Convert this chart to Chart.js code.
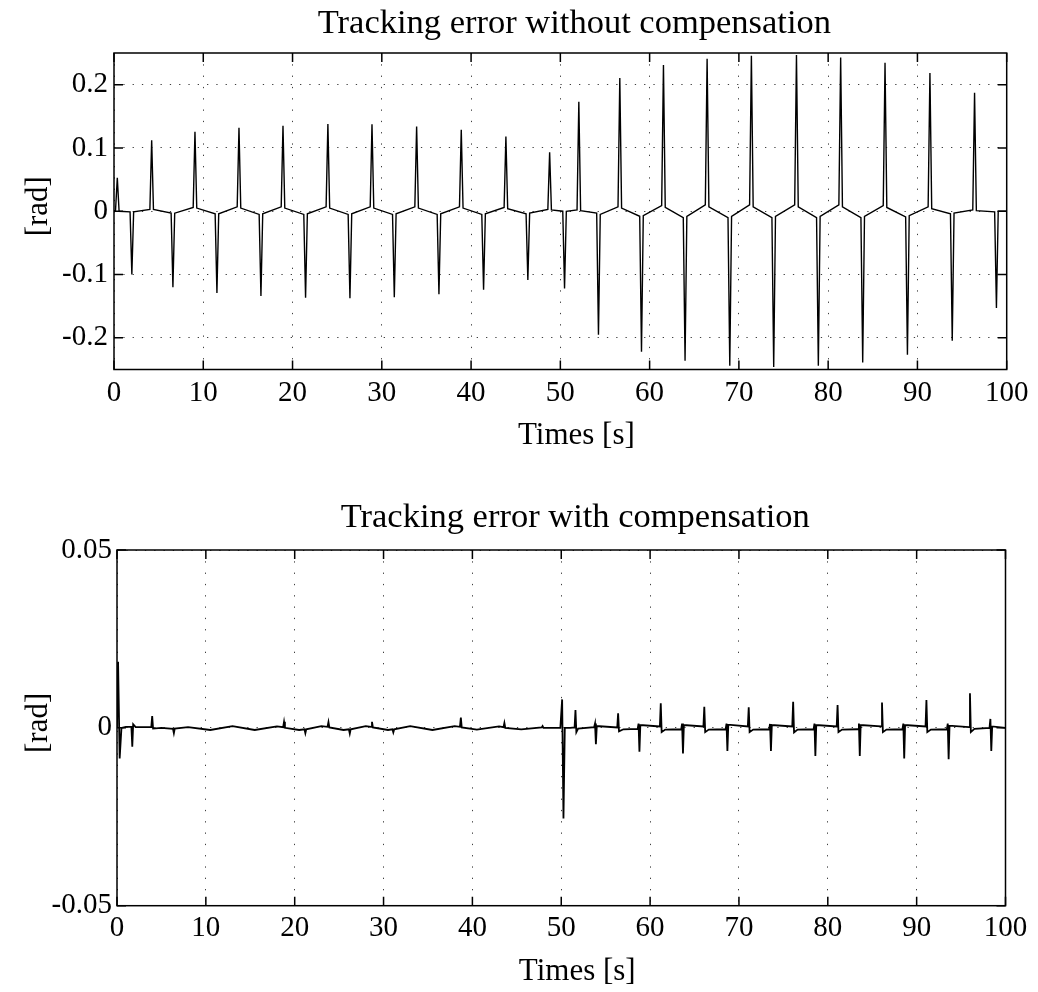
<!DOCTYPE html>
<html>
<head>
<meta charset="utf-8">
<script src="https://cdn.jsdelivr.net/npm/chart.js@4.4.1/dist/chart.umd.min.js"></script>
<style>
  html, body { margin: 0; padding: 0; background: #fff; }
  #wrap { position: relative; width: 1038px; height: 992px; }
  canvas { position: absolute; left: 0; }
  #topChart { top: 0; }
  #bottomChart { top: 480px; }
</style>
</head>
<body>
<div id="wrap">
  <canvas id="topChart" width="1038" height="480"></canvas>
  <canvas id="bottomChart" width="1038" height="512"></canvas>
</div>
<script>
// x ticks shared by both plots
const xTicks = [0, 10, 20, 30, 40, 50, 60, 70, 80, 90, 100];

// top plot: tracking error without compensation
const topYTicks = [-0.2, -0.1, 0, 0.1, 0.2];
const topYLabels = ['-0.2', '-0.1', '0', '0.1', '0.2'];
const topTime = [
  0,
  0.17, 0.37, 0.57,
  1.8, 2.0, 2.2,
  4.02, 4.22, 4.42,
  6.4, 6.6, 6.8,
  8.87, 9.07, 9.27,
  11.33, 11.53, 11.73,
  13.8, 14.0, 14.2,
  16.26, 16.46, 16.66,
  18.73, 18.93, 19.13,
  21.26, 21.46, 21.66,
  23.76, 23.96, 24.16,
  26.23, 26.43, 26.63,
  28.7, 28.9, 29.1,
  31.2, 31.4, 31.6,
  33.7, 33.9, 34.1,
  36.2, 36.4, 36.6,
  38.7, 38.9, 39.1,
  41.2, 41.4, 41.6,
  43.7, 43.9, 44.1,
  46.16, 46.36, 46.56,
  48.6, 48.8, 49.0,
  50.27, 50.47, 50.67,
  51.87, 52.07, 52.27,
  54.07, 54.27, 54.47,
  56.46, 56.66, 56.86,
  58.89, 59.09, 59.29,
  61.35, 61.55, 61.75,
  63.77, 63.97, 64.17,
  66.24, 66.44, 66.64,
  68.78, 68.98, 69.18,
  71.2, 71.4, 71.6,
  73.7, 73.9, 74.1,
  76.25, 76.45, 76.65,
  78.7, 78.9, 79.1,
  81.2, 81.4, 81.6,
  83.67, 83.87, 84.07,
  86.17, 86.37, 86.57,
  88.68, 88.88, 89.08,
  91.2, 91.4, 91.6,
  93.7, 93.9, 94.1,
  96.2, 96.4, 96.6,
  98.65, 98.85, 99.05,
  100
];
const topError = [
  0.001,
  0.001, 0.053, 0.000,
  -0.001, -0.100, -0.001,
  0.003, 0.112, 0.003,
  -0.003, -0.120, -0.003,
  0.006, 0.1255, 0.005,
  -0.004, -0.129, -0.004,
  0.007, 0.132, 0.005,
  -0.005, -0.134, -0.004,
  0.007, 0.135, 0.005,
  -0.005, -0.1365, -0.004,
  0.007, 0.138, 0.005,
  -0.005, -0.1375, -0.004,
  0.007, 0.1375, 0.005,
  -0.005, -0.136, -0.004,
  0.007, 0.134, 0.005,
  -0.005, -0.131, -0.004,
  0.007, 0.1286, 0.005,
  -0.005, -0.124, -0.004,
  0.006, 0.118, 0.004,
  -0.004, -0.1087, -0.003,
  0.003, 0.093, 0.002,
  0.000, -0.122, 0.000,
  0.002, 0.173, 0.001,
  -0.003, -0.195, -0.005,
  0.007, 0.2105, 0.005,
  -0.008, -0.222, -0.007,
  0.009, 0.231, 0.006,
  -0.010, -0.236, -0.008,
  0.010, 0.241, 0.007,
  -0.010, -0.244, -0.008,
  0.010, 0.2457, 0.007,
  -0.010, -0.246, -0.008,
  0.010, 0.2467, 0.007,
  -0.010, -0.244, -0.008,
  0.010, 0.243, 0.007,
  -0.010, -0.239, -0.008,
  0.009, 0.2346, 0.006,
  -0.009, -0.2268, -0.007,
  0.007, 0.2184, 0.004,
  -0.004, -0.2047, -0.003,
  0.002, 0.187, 0.001,
  -0.001, -0.153, 0.000,
  0.000
];

// bottom plot: tracking error with compensation
const botYTicks = [-0.05, 0, 0.05];
const botYLabels = ['-0.05', '0', '0.05'];
const botTime = [
  0, 0.12, 0.3, 0.5, 1.0,
  1.62, 1.72, 1.82, 2.1,
  3.86, 3.96, 4.06, 5.0,
  6.3, 6.4, 6.5, 8.0,
  10.5, 13.0, 15.5, 18.0,
  18.7, 18.8, 18.9, 20.5,
  21.1, 21.2, 21.3, 23.0,
  23.7, 23.8, 23.9, 25.5,
  26.1, 26.2, 26.3, 28.0,
  28.6, 28.7, 28.8, 30.5,
  31.0, 31.1, 31.2, 33.0,
  35.5, 38.0,
  38.6, 38.7, 38.8, 40.5,
  43.0, 43.5, 43.6, 43.7, 45.5,
  47.8, 47.9, 48.0, 49.9,
  50.1, 50.25, 50.4, 51.0,
  51.5, 51.6, 51.7, 51.9,
  53.7, 53.8, 53.9, 54.0,
  56.3, 56.4, 56.5, 57.0,
  58.6, 58.7, 58.8, 58.9,
  61.1, 61.2, 61.3, 61.7,
  63.5, 63.6, 63.7, 63.8,
  66.0, 66.1, 66.2, 66.6,
  68.5, 68.6, 68.7, 68.8,
  71.0, 71.1, 71.2, 71.6,
  73.4, 73.5, 73.6, 73.7,
  76.0, 76.1, 76.2, 76.6,
  78.4, 78.5, 78.6, 78.7,
  81.0, 81.1, 81.2, 81.6,
  83.4, 83.5, 83.6, 83.7,
  86.0, 86.1, 86.2, 86.6,
  88.4, 88.5, 88.6, 88.7,
  91.0, 91.1, 91.2, 91.6,
  93.4, 93.5, 93.6, 93.7,
  95.9, 96.0, 96.1, 96.5,
  98.2, 98.3, 98.4, 98.5,
  100
];
const botError = [
  0.0, 0.0186, -0.0086, 0.0, 0.0003,
  0.0003, -0.0053, 0.0010, 0.0002,
  0.0002, 0.0033, -0.0002, 0.0,
  -0.0003, -0.0015, -0.0002, 0.0002,
  -0.0006, 0.0005, -0.0006, 0.0004,
  0.0002, 0.0017, 0.0, -0.0006,
  -0.0004, -0.0015, -0.0004, 0.0005,
  0.0003, 0.0016, 0.0001, -0.0006,
  -0.0004, -0.0016, -0.0004, 0.0005,
  0.0003, 0.0017, 0.0001, -0.0006,
  -0.0004, -0.0013, -0.0004, 0.0005,
  -0.0006, 0.0005,
  0.0003, 0.0029, 0.0001, -0.0005,
  0.0004, 0.0002, 0.0014, 0.0, -0.0004,
  0.0001, 0.0005, 0.0, 0.0,
  0.0080, -0.0255, 0.0, 0.0,
  0.0001, 0.0050, -0.0012, -0.0002,
  0.0002, 0.0012, -0.0046, 0.0005,
  0.0001, 0.0041, -0.0010, -0.0004,
  -0.0003, 0.0012, -0.0067, 0.0008,
  0.0004, 0.0069, -0.0012, -0.0005,
  -0.0004, 0.0012, -0.0072, 0.0008,
  0.0004, 0.0059, -0.0012, -0.0005,
  -0.0004, 0.0012, -0.0065, 0.0009,
  0.0004, 0.0058, -0.0012, -0.0005,
  -0.0004, 0.0011, -0.0065, 0.0008,
  0.0004, 0.0073, -0.0013, -0.0005,
  -0.0004, 0.0012, -0.0079, 0.0008,
  0.0004, 0.0064, -0.0012, -0.0005,
  -0.0004, 0.0012, -0.0079, 0.0008,
  0.0004, 0.0071, -0.0012, -0.0005,
  -0.0004, 0.0012, -0.0086, 0.0008,
  0.0004, 0.0078, -0.0012, -0.0005,
  -0.0004, 0.0012, -0.0088, 0.0006,
  0.0002, 0.0097, -0.0012, -0.0003,
  0.0, 0.0025, -0.0065, 0.0004,
  0.0
];

const FONT = '"Liberation Serif", "Times New Roman", serif';

// box round the axes, inward ticks on all four sides, title and axis labels
const framePlugin = {
  id: 'frame',
  afterDraw(chart, args, opts) {
    const { ctx, chartArea: a, scales: { x, y } } = chart;
    const mid = (a.left + a.right) / 2;
    ctx.save();
    ctx.strokeStyle = '#000';
    ctx.lineWidth = 1.5;
    ctx.strokeRect(a.left, a.top, a.right - a.left, a.bottom - a.top);
    ctx.beginPath();
    x.ticks.forEach(t => {
      const p = x.getPixelForValue(t.value);
      ctx.moveTo(p, a.bottom); ctx.lineTo(p, a.bottom - 9);
      ctx.moveTo(p, a.top); ctx.lineTo(p, a.top + 9);
    });
    y.ticks.forEach(t => {
      const p = y.getPixelForValue(t.value);
      ctx.moveTo(a.left, p); ctx.lineTo(a.left + 9, p);
      ctx.moveTo(a.right, p); ctx.lineTo(a.right - 9, p);
    });
    ctx.stroke();

    ctx.fillStyle = '#000';
    ctx.textAlign = 'center';
    ctx.textBaseline = 'alphabetic';
    ctx.font = '34.5px ' + FONT;
    ctx.fillText(opts.title, mid + 14, opts.titleBaseline);
    ctx.font = '31px ' + FONT;
    ctx.fillText('Times [s]', mid + 16, a.bottom + 74);
    ctx.translate(47, (a.top + a.bottom) / 2 - 5);
    ctx.rotate(-Math.PI / 2);
    ctx.fillText('[rad]', 0, 0);
    ctx.restore();
  }
};

function makeChart(id, time, err, yMin, yMax, yTicks, yLabels, s) {
  return new Chart(document.getElementById(id), {
    type: 'line',
    data: {
      datasets: [{
        data: time.map((t, i) => ({ x: t, y: err[i] })),
        borderColor: '#000',
        borderWidth: s.lineWidth,
        pointRadius: 0,
        tension: 0,
        fill: false
      }]
    },
    options: {
      responsive: false,
      devicePixelRatio: 1,
      animation: false,
      layout: { padding: { top: s.top, left: 0, right: s.right, bottom: s.bottom } },
      plugins: {
        legend: { display: false },
        tooltip: { enabled: false },
        frame: { title: s.title, titleBaseline: s.titleBaseline }
      },
      scales: {
        x: {
          type: 'linear',
          min: 0, max: 100,
          afterBuildTicks: sc => { sc.ticks = xTicks.map(v => ({ value: v })); },
          afterFit: sc => { sc.height = s.xHeight; },
          grid: { drawTicks: false, color: 'rgba(0,0,0,0.75)', lineWidth: 1 },
          border: { display: false, dash: [1.3, 10] },
          ticks: { padding: s.xPad, color: '#000', font: { family: FONT, size: 29 }, maxRotation: 0, autoSkip: false }
        },
        y: {
          min: yMin, max: yMax,
          afterBuildTicks: sc => { sc.ticks = yTicks.map(v => ({ value: v })); },
          afterFit: sc => { sc.width = s.yWidth; },
          grid: { drawTicks: false, color: 'rgba(0,0,0,0.75)', lineWidth: 1 },
          border: { display: false, dash: [1.3, 8] },
          ticks: { padding: s.yPad, color: '#000', font: { family: FONT, size: 29 }, callback: (v, i) => yLabels[i] }
        }
      }
    },
    plugins: [framePlugin]
  });
}

makeChart('topChart', topTime, topError, -0.25, 0.25, topYTicks, topYLabels, {
  title: 'Tracking error without compensation', titleBaseline: 33,
  top: 53, right: 31.3, bottom: 20.5, yWidth: 114, xHeight: 90,
  xPad: 6, yPad: 6, lineWidth: 1.4
});

makeChart('bottomChart', botTime, botError, -0.05, 0.05, botYTicks, botYLabels, {
  title: 'Tracking error with compensation', titleBaseline: 46.7,
  top: 70, right: 32.5, bottom: 2.3, yWidth: 117, xHeight: 84,
  xPad: 5, yPad: 5, lineWidth: 1.8
});
</script>
</body>
</html>
